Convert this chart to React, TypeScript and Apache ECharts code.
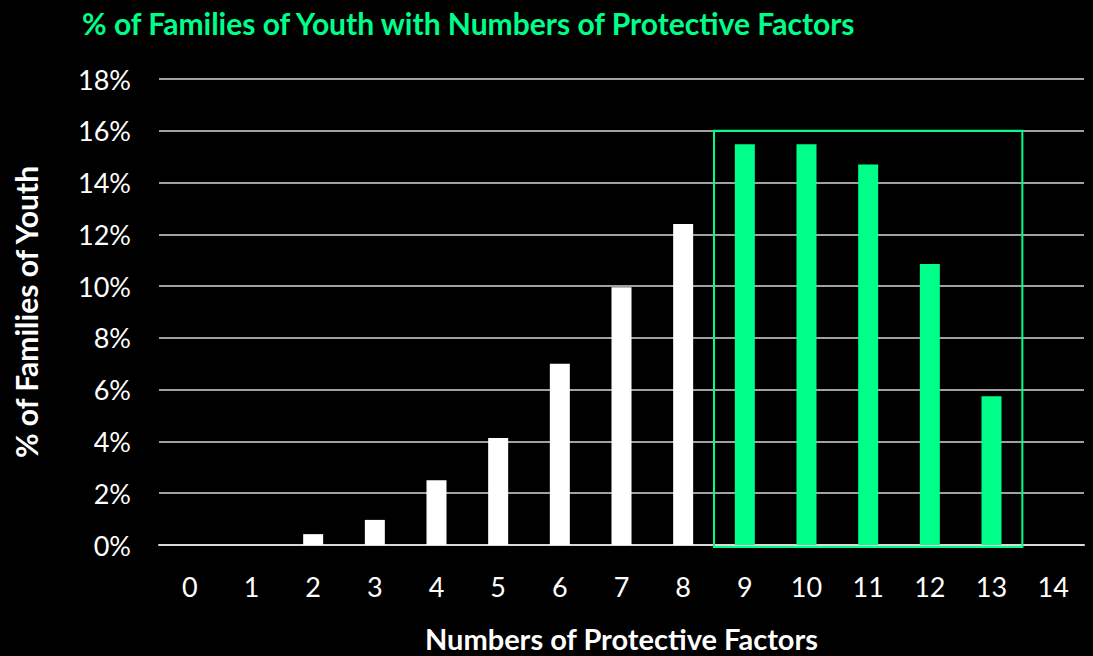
import React, { useEffect, useRef } from "react";
import * as echarts from "echarts";

const categories = ["0", "1", "2", "3", "4", "5", "6", "7", "8", "9", "10", "11", "12", "13", "14"];
const values = [0, 0, 0.42, 0.97, 2.5, 4.13, 7.0, 9.96, 12.4, 15.48, 15.48, 14.7, 10.85, 5.75, 0];
const highlightFrom = 9;
const highlightTo = 13;
const yTicks = [0, 2, 4, 6, 8, 10, 12, 14, 16, 18];

const GREEN = "#00FF88";
const FONT = "Lato, 'Open Sans', sans-serif";

export default function App() {
  const ref = useRef<HTMLDivElement>(null);
  useEffect(() => {
    const chart = echarts.init(ref.current!, null, { renderer: "svg" });
    chart.setOption({
      animation: false,
      backgroundColor: "#000000",
      title: {
        text: "% of Families of Youth with Numbers of Protective Factors",
        left: 77,
        top: 3,
        textStyle: { color: GREEN, fontSize: 30, fontWeight: "bold", fontFamily: FONT },
      },
      grid: { left: 159, right: 9, top: 79, bottom: 111, outerBoundsMode: "none", containLabel: false },
      xAxis: {
        type: "category",
        data: categories,
        name: "Numbers of Protective Factors",
        nameLocation: "middle",
        nameGap: 78,
        nameTextStyle: { color: "#ffffff", fontSize: 29, fontWeight: "bold", fontFamily: FONT, lineHeight: 30 },
        axisLine: { lineStyle: { color: "#d9d9d9", width: 2 } },
        axisTick: { show: false },
        axisLabel: { color: "#ffffff", fontSize: 27, fontFamily: FONT, margin: 28 },
      },
      yAxis: {
        type: "value",
        min: yTicks[0],
        max: yTicks[yTicks.length - 1],
        interval: 2,
        name: "% of Families of Youth",
        nameLocation: "middle",
        nameGap: 118,
        nameRotate: 90,
        nameTextStyle: { color: "#ffffff", fontSize: 30, fontWeight: "bold", fontFamily: FONT },
        axisLabel: { color: "#ffffff", fontSize: 27, fontFamily: FONT, margin: 28, formatter: (v: number) => v + "%" },
        axisLine: { show: false },
        axisTick: { show: false },
        splitLine: { lineStyle: { color: "#a0a0a0", width: 2 } },
      },
      series: [
        {
          type: "bar",
          data: values.map((v, i) => ({
            value: v,
            itemStyle: { color: i >= highlightFrom && i <= highlightTo ? GREEN : "#ffffff" },
          })),
          barWidth: 20,
        },
      ],
    });
    const c0 = chart.convertToPixel({ xAxisIndex: 0 }, categories[highlightFrom]) as number;
    const c1 = chart.convertToPixel({ xAxisIndex: 0 }, categories[highlightTo]) as number;
    const cNext = chart.convertToPixel({ xAxisIndex: 0 }, categories[highlightFrom + 1]) as number;
    const half = (cNext - c0) / 2;
    const yTop = chart.convertToPixel({ yAxisIndex: 0 }, 16) as number;
    const yBot = chart.convertToPixel({ yAxisIndex: 0 }, 0) as number;
    chart.setOption({
      graphic: [
        {
          type: "rect",
          shape: { x: c0 - half, y: yTop, width: c1 - c0 + 2 * half, height: yBot - yTop + 2 },
          style: { fill: "transparent", stroke: GREEN, lineWidth: 2 },
          z: 10,
        },
      ],
    });
    return () => chart.dispose();
  }, []);
  return <div ref={ref} style={{ position: "fixed", left: 0, top: 0, width: 1093, height: 656 }} />;
}
